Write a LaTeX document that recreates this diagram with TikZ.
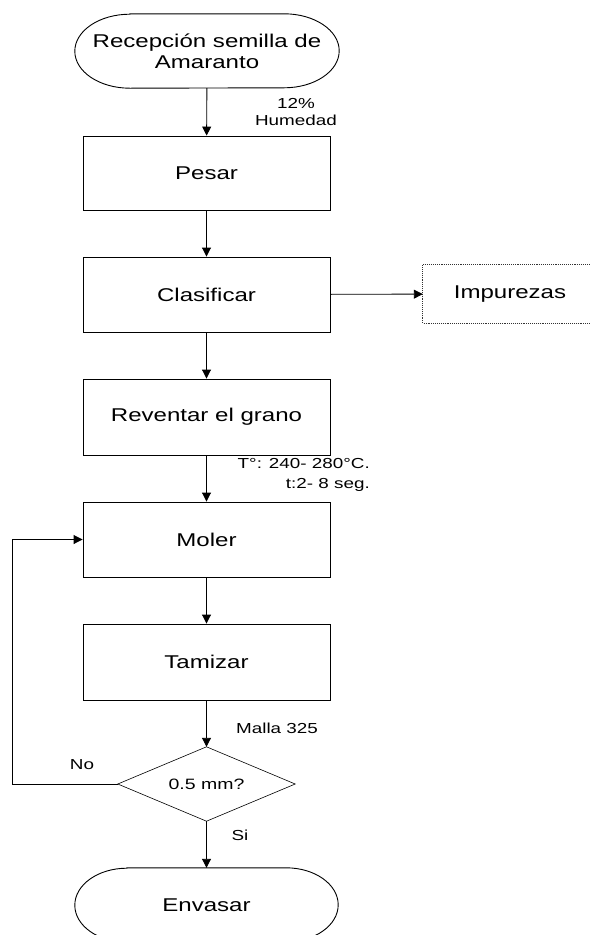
\documentclass[tikz,border=0pt]{standalone}
\usepackage{fontspec}
\setmainfont{Liberation Sans}[FakeStretch=1.3]
\usetikzlibrary{arrows.meta}
\tikzset{
  ln/.style={line width=0.9pt, draw=black},
  arr/.style={ln, -{Triangle[length=9pt,width=9pt]}},
  procbox/.style={draw=black, line width=0.9pt, rectangle, minimum width=247pt, inner sep=0pt, font=\fontsize{18.5}{21}\selectfont},
  termbox/.style={rectangle, draw=none, minimum width=264pt, minimum height=74pt, inner sep=0pt, align=center, font=\fontsize{18.5}{21}\selectfont},
  lbl/.style={inner sep=0pt, font=\fontsize{14.5}{17}\selectfont},
}
\begin{document}
\begin{tikzpicture}[x=1pt,y=-1pt]
\useasboundingbox (0,0) rectangle (590,935);
\clip (0,0) rectangle (590,935);
% nodes
\node[termbox] (start) at (207,51) {Recepción semilla de\\Amaranto};
\node[procbox, minimum height=74pt] (pesar) at (206.5,173) {Pesar};
\node[procbox, minimum height=75pt] (clas) at (206.5,294.5) {Clasificar};
\node[procbox, minimum height=76pt] (rev) at (206.5,417) {Reventar el grano};
\node[procbox, minimum height=75pt] (moler) at (206.5,539.5) {Moler};
\node[procbox, minimum height=76pt] (tam) at (206.5,662) {Tamizar};
\node[rectangle, draw=none, minimum width=177pt, minimum height=74pt, inner sep=0pt, font=\fontsize{15}{17}\selectfont] (dia) at (206.5,784) {0.5 mm?};
\node[termbox, minimum width=263pt] (env) at (206.5,905) {Envasar};
\node[rectangle, draw=none, minimum width=174pt, minimum height=58pt, inner sep=0pt, font=\fontsize{18.5}{21}\selectfont] (imp) at (510,294) {Impurezas};
% shapes drawn from node anchors
\draw[ln] ([xshift=55pt]start.north west) -- ([xshift=-55pt]start.north east)
  arc[start angle=90, end angle=-90, x radius=55pt, y radius=37pt]
  -- ([xshift=55pt]start.south west)
  arc[start angle=270, end angle=90, x radius=55pt, y radius=37pt] -- cycle;
\draw[ln] ([xshift=52pt]env.north west) -- ([xshift=-52pt]env.north east)
  arc[start angle=90, end angle=-90, x radius=52pt, y radius=37pt]
  -- ([xshift=52pt]env.south west)
  arc[start angle=270, end angle=90, x radius=52pt, y radius=37pt] -- cycle;
\draw[ln, line width=0.6pt] (dia.north) -- (dia.east) -- (dia.south) -- (dia.west) -- cycle;
\draw[line width=0.9pt, densely dotted, draw=black!80] (imp.north east) -- (imp.north west) -- (imp.south west) -- (imp.south east);
% labels
\node[lbl, align=center, font=\fontsize{14.5}{17}\selectfont] (hum) at (296,112) {12\%\\Humedad};
\node[lbl, align=right, anchor=east, font=\fontsize{14.5}{20}\selectfont] (temp) at (370,475) {T°: 240- 280°C.\\t:2- 8 seg.};
\node[lbl] (malla) at (277,728) {Malla 325};
\node[lbl] (no) at (82,765) {No};
\node[lbl] (si) at (240,835) {Si};
% connectors
\draw[arr] (start) -- (pesar);
\draw[arr] (pesar) -- (clas);
\draw[arr] (clas) -- (imp);
\draw[arr] (clas) -- (rev);
\draw[arr] (rev) -- (moler);
\draw[arr] (moler) -- (tam);
\draw[arr] (tam) -- (dia.north);
\draw[arr] (dia.south) -- (env.north);
\coordinate (fb) at (12,784);
\draw[arr] (dia.west) -- (fb) |- (moler.west);
\end{tikzpicture}
\end{document}
